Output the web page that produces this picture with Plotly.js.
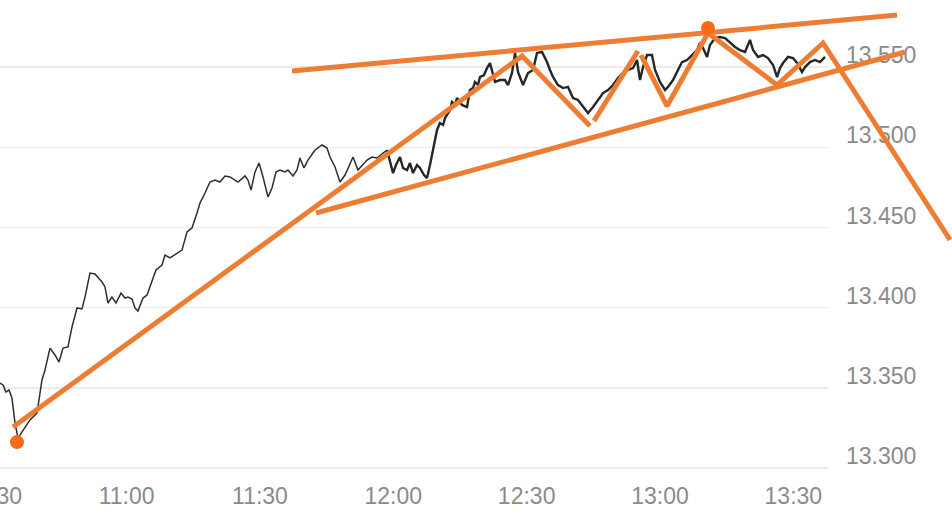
<!DOCTYPE html>
<html>
<head>
<meta charset="utf-8">
<script src="https://cdn.plot.ly/plotly-3.0.1.min.js"></script>
<style>
html,body{margin:0;padding:0;background:#fff;overflow:hidden;width:952px;height:529px;}
#chart{position:absolute;left:-7px;top:0;width:959px;height:529px;}
</style>
</head>
<body>
<div id="chart"></div>
<script>
const DAY = '2024-01-02 ';

// Price series, calmer first part
const timesA = ['10:31:30','10:32:11','10:32:51','10:33:32','10:34:12','10:34:53','10:35:33','10:36:41','10:38:15','10:39:50',
'10:40:30','10:40:57','10:41:38','10:42:45','10:43:53','10:44:47','10:45:41','10:46:48','10:47:42','10:48:50',
'10:49:57','10:50:38','10:51:45','10:52:53','10:54:27','10:55:08','10:55:48','10:56:42','10:57:36','10:58:44',
'10:59:38','11:00:18','11:01:12','11:01:53','11:02:33','11:03:41','11:04:35','11:05:42','11:06:36','11:07:57',
'11:08:38','11:09:45','11:11:20','11:12:27','11:13:35','11:14:42','11:15:50','11:16:30','11:17:38','11:18:45',
'11:19:53','11:21:00','11:22:08','11:23:15','11:25:03','11:26:38','11:27:18','11:27:59','11:28:53','11:29:47',
'11:30:41','11:31:48','11:32:42','11:33:36','11:34:30','11:35:38','11:36:18','11:37:26','11:38:20','11:39:00',
'11:39:54','11:40:48','11:42:23','11:43:57','11:45:05','11:45:45','11:46:53','11:48:00','11:49:08','11:50:56',
'11:52:03','11:53:11','11:54:05','11:55:12','11:56:20','11:57:41','11:58:35'];
const pricesA = [13.3530,13.3518,13.3474,13.3487,13.3437,13.3281,13.3187,13.3237,13.3300,13.3343,
13.3487,13.3549,13.3611,13.3748,13.3705,13.3661,13.3748,13.3755,13.3879,13.3998,
13.3992,13.4066,13.4216,13.4210,13.4160,13.4129,13.4029,13.4066,13.4029,13.4091,
13.4060,13.4066,13.4054,13.3998,13.3979,13.4060,13.4079,13.4160,13.4235,13.4266,
13.4328,13.4310,13.4341,13.4359,13.4472,13.4497,13.4590,13.4652,13.4715,13.4783,
13.4796,13.4783,13.4821,13.4815,13.4783,13.4821,13.4796,13.4733,13.4846,13.4902,
13.4815,13.4690,13.4746,13.4846,13.4858,13.4846,13.4858,13.4821,13.4858,13.4933,
13.4871,13.4920,13.4983,13.5014,13.4995,13.4939,13.4877,13.4783,13.4827,13.4939,
13.4858,13.4889,13.4920,13.4939,13.4933,13.4964,13.4983];

// Price series, noisy second part
const timesB = ['11:58:35','11:59:15','11:59:56','12:00:36','12:01:30','12:02:11','12:03:05','12:03:45','12:04:26','12:05:20',
'12:06:00','12:06:54','12:07:35','12:08:15','12:08:56','12:09:50','12:10:30','12:11:11','12:11:38','12:12:18',
'12:12:45','12:13:12','12:13:53','12:14:20','12:15:27','12:16:35','12:17:15','12:17:56','12:18:23','12:19:03',
'12:19:30','12:20:24','12:21:05','12:21:45','12:22:26','12:22:53','12:24:00','12:25:08','12:25:48','12:26:42',
'12:27:23','12:28:03','12:29:11','12:30:18','12:31:26','12:32:20','12:33:27','12:34:35','12:35:15','12:35:56',
'12:37:03','12:38:11','12:39:18','12:40:26','12:41:33','12:42:41','12:43:48','12:44:56','12:46:03','12:47:11',
'12:48:18','12:49:26','12:50:33','12:51:41','12:52:48','12:53:56','12:54:50','12:55:30','12:56:11','12:57:05',
'12:58:12','12:58:53','13:00:00','13:01:08','13:01:48','13:02:56','13:04:03','13:04:57','13:06:05','13:07:12',
'13:08:20','13:09:00','13:09:41','13:10:35','13:11:15','13:12:23','13:13:30','13:14:38','13:15:45','13:16:53',
'13:18:00','13:19:08','13:20:15','13:20:56','13:22:03','13:23:11','13:24:18','13:25:26','13:26:20','13:27:00',
'13:27:41','13:28:48','13:29:56','13:30:50','13:31:57','13:32:38','13:33:45','13:34:53','13:36:00','13:37:08'];
const pricesB = [13.4983,13.4908,13.4839,13.4889,13.4939,13.4871,13.4858,13.4902,13.4839,13.4889,
13.4871,13.4827,13.4808,13.4889,13.4983,13.5108,13.5151,13.5139,13.5182,13.5214,
13.5232,13.5282,13.5264,13.5307,13.5264,13.5251,13.5357,13.5369,13.5407,13.5388,
13.5438,13.5450,13.5494,13.5525,13.5450,13.5407,13.5419,13.5419,13.5388,13.5463,
13.5588,13.5469,13.5388,13.5463,13.5482,13.5588,13.5594,13.5531,13.5482,13.5438,
13.5388,13.5369,13.5376,13.5307,13.5295,13.5251,13.5213,13.5251,13.5295,13.5338,
13.5357,13.5388,13.5432,13.5463,13.5482,13.5494,13.5544,13.5419,13.5500,13.5575,
13.5575,13.5482,13.5407,13.5357,13.5376,13.5419,13.5482,13.5531,13.5544,13.5575,
13.5606,13.5650,13.5619,13.5563,13.5637,13.5681,13.5687,13.5681,13.5650,13.5625,
13.5606,13.5594,13.5669,13.5606,13.5563,13.5575,13.5556,13.5513,13.5438,13.5494,
13.5525,13.5563,13.5556,13.5525,13.5469,13.5500,13.5531,13.5544,13.5531,13.5563];

// Orange pattern lines (null separates segments)
const patternTimes = ['10:34:26','12:28:58','12:44:15',null,
'12:45:09','12:55:03',null,
'12:55:44','13:01:35','13:10:48','13:26:20','13:36:41','14:05:16',null,
'11:37:13','13:53:20',null,
'11:42:37','13:55:08'];
const patternValues = [13.3256,13.5569,13.5132,null,
13.5164,13.5600,null,
13.5575,13.5257,13.5712,13.5388,13.5650,13.4422,null,
13.5475,13.5824,null,
13.4590,13.5594];

// Marked extremes
const pointTimes = ['10:35:20','13:10:48'];
const pointValues = [13.3162,13.5743];

// Axis ticks
const yTicks = [13.30,13.35,13.40,13.45,13.50,13.55];
const xTicks = ['10:30','11:00','11:30','12:00','12:30','13:00','13:30'];

const d = t => t === null ? null : DAY + t;
const gray = '#8a8a8a';
const font = {family:'"Liberation Sans", Arial, sans-serif', size:23, color:gray};

const traces = [
  {x:timesA.map(d), y:pricesA, type:'scatter', mode:'lines', line:{color:'#2e2e2e', width:1.5}, xaxis:'x', yaxis:'y', hoverinfo:'skip'},
  {x:timesB.map(d), y:pricesB, type:'scatter', mode:'lines', line:{color:'#262626', width:2.4}, xaxis:'x', yaxis:'y', hoverinfo:'skip'},
  {x:patternTimes.map(d), y:patternValues, type:'scatter', mode:'lines', connectgaps:false, line:{color:'#ec7d33', width:5}, xaxis:'x2', yaxis:'y2', hoverinfo:'skip'},
  {x:pointTimes.map(d), y:pointValues, type:'scatter', mode:'markers', marker:{color:'#fa6a14', size:14}, xaxis:'x2', yaxis:'y2', hoverinfo:'skip'}
];

const yRange = [13.2988, 13.5918];
const layout = {
  width:959, height:529,
  margin:{l:0, r:0, t:0, b:59, autoexpand:false},
  paper_bgcolor:'#fff', plot_bgcolor:'rgba(0,0,0,0)',
  showlegend:false, font:font,
  xaxis:{type:'date', domain:[0, 835/959], range:[DAY+'10:29:56', DAY+'13:37:48'], automargin:false,
    tickvals:xTicks.map(d), ticktext:xTicks, showgrid:false, zeroline:false, showline:false,
    ticks:'', tickfont:font, ticklabelstandoff:10, ticklabeloverflow:'allow'},
  yaxis:{domain:[0,1], range:yRange, side:'right', tickvals:yTicks, tickformat:'.3f', automargin:false,
    showgrid:true, gridcolor:'#ebebeb', gridwidth:1.5, zeroline:false, showline:false, ticks:'',
    tickfont:font, ticklabelstandoff:17, ticklabelshift:-12, ticklabeloverflow:'allow'},
  xaxis2:{type:'date', domain:[0,1], anchor:'y2', range:[DAY+'10:29:56', DAY+'14:05:42'], automargin:false,
    visible:false, showgrid:false, zeroline:false},
  yaxis2:{domain:[0,1], anchor:'x2', range:yRange, visible:false, showgrid:false, zeroline:false, automargin:false}
};

Plotly.newPlot('chart', traces, layout, {staticPlot:true, displayModeBar:false});
</script>
</body>
</html>
